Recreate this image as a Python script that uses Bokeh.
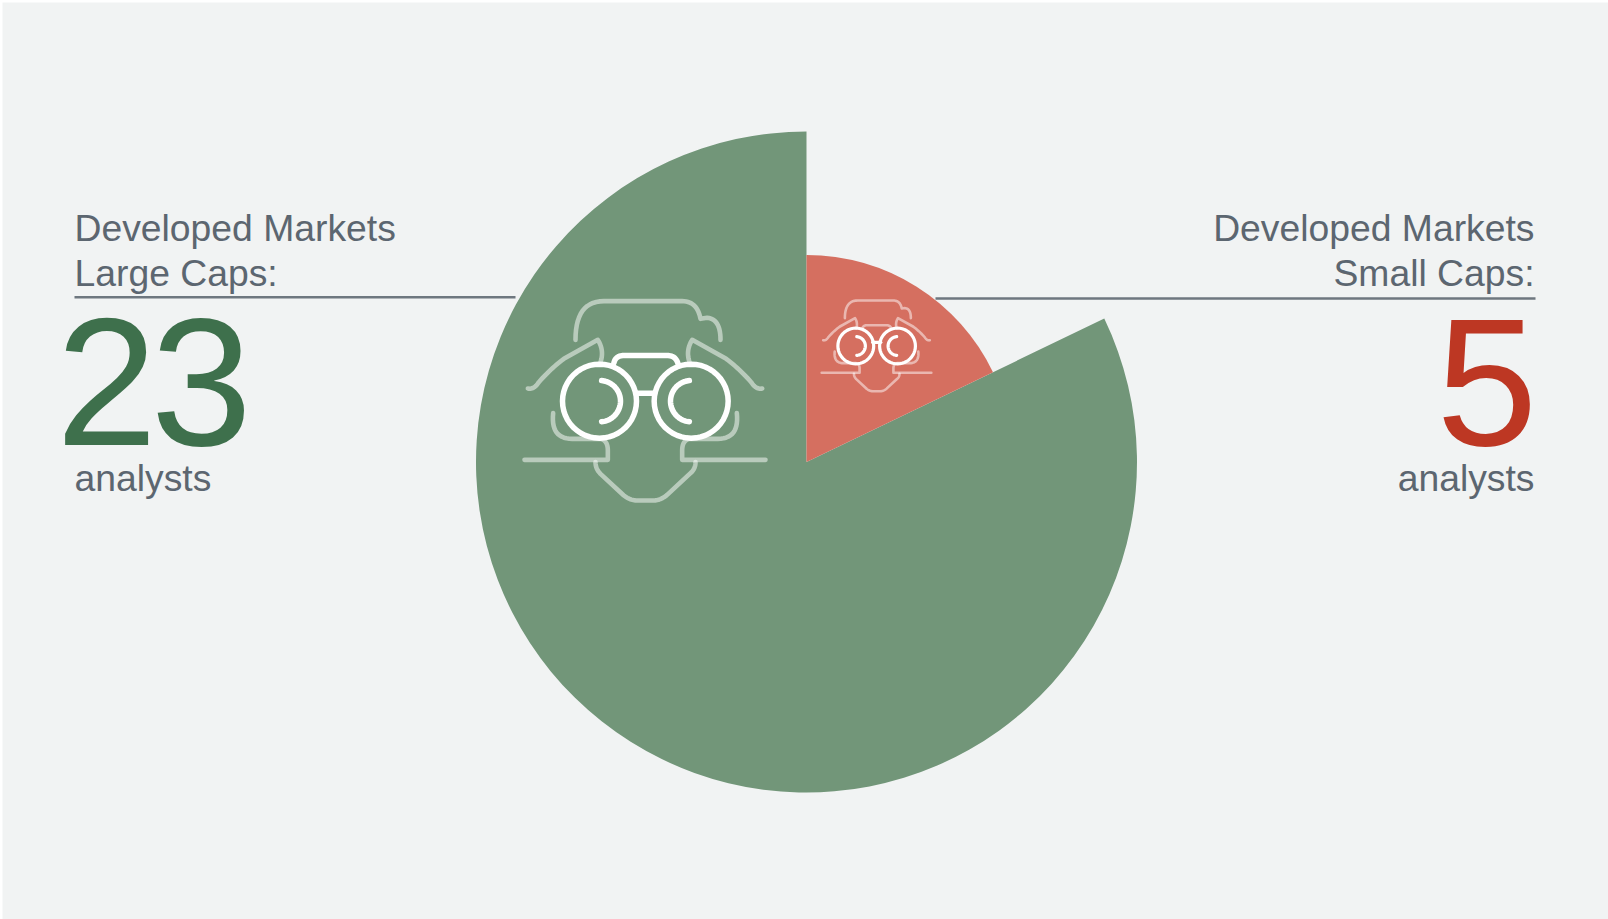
import math
from bokeh.plotting import figure
from bokeh.models import Range1d
from bokeh.core.properties import value
from bokeh.embed import file_html
from bokeh.resources import INLINE

# --- data ---
segments = ["Developed Markets Small Caps", "Developed Markets Large Caps"]
analysts = [5, 23]
wedge_colors = ["#d56f60", "#729679"]
number_colors = ["#bd3723", "#3e704c"]
label_color = "#5c6670"
rule_color = "#6e777f"
bg = "#f1f3f3"

W, H = 1608, 919
CX, CY = 806, 461.5
R_BIG, R_SMALL = 330.5, 207
LABEL_SIZE = 37.3
NUMBER_SIZE = 182
BASE_K = 0.355


def Y(y):
    return H - y


def make_fig(**kw):
    f = figure(width=W - 2, height=H - 2, x_range=Range1d(2, W), y_range=Range1d(0, H - 2),
               output_backend="svg", toolbar_location=None, min_border=0,
               outline_line_color=None, x_axis_type=None, y_axis_type=None, **kw)
    f.grid.visible = False
    return f


p = make_fig(background_fill_color=bg, border_fill_color=bg,
             styles={"position": "absolute", "left": "2px", "top": "2px"})
p2 = make_fig(background_fill_alpha=0, border_fill_alpha=0,
              styles={"position": "absolute", "left": "2px", "top": "2px", "letter-spacing": "-6.5px"})

# --- wedges ---
total = sum(analysts)
small_frac = analysts[0] / total
top = math.pi / 2
split = top - 2 * math.pi * small_frac
p.wedge(x=[CX], y=[Y(CY)], radius=R_BIG, start_angle=top, end_angle=split + 2 * math.pi,
        fill_color=wedge_colors[1], line_color=None)
p.wedge(x=[CX], y=[Y(CY)], radius=R_SMALL, start_angle=split, end_angle=top,
        fill_color=wedge_colors[0], line_color=None)


# --- icon, drawn in a local unit grid ---
def qcurve(a, c, b, n=14):
    return [((1 - t) ** 2 * a[0] + 2 * t * (1 - t) * c[0] + t ** 2 * b[0],
             (1 - t) ** 2 * a[1] + 2 * t * (1 - t) * c[1] + t ** 2 * b[1])
            for t in (i / n for i in range(n + 1))]


def arc(cx, cy, r, a0, a1, n=48):
    return [(cx + r * math.cos(math.radians(a0 + (a1 - a0) * i / n)),
             cy + r * math.sin(math.radians(a0 + (a1 - a0) * i / n))) for i in range(n + 1)]


MIRROR = 867


def mirror(path):
    return [(MIRROR - x, y) for x, y in path]


hair = ([(225, 178)] + qcurve((225, 178), (225, 62), (310, 62)) + qcurve((545, 62), (590, 62), (600, 115))
        + qcurve((620, 112), (660, 115), (660, 178)))
brow = (qcurve((82, 324), (100, 328), (115, 305)) + qcurve((115, 305), (150, 265), (190, 235))
        + [(292, 178)] + qcurve((292, 178), (312, 210), (300, 245)))
cheek = (qcurve((158, 398), (150, 475), (215, 475)) + [(300, 475)] + qcurve((300, 475), (322, 480), (322, 510))
         + [(322, 538), (72, 538)])
chin = (qcurve((285, 545), (285, 565), (300, 580)) + [(370, 645)] + qcurve((370, 645), (390, 660), (410, 660))
        + [(458, 660)] + qcurve((458, 660), (480, 660), (500, 643)) + [(570, 578)]
        + qcurve((570, 578), (585, 565), (585, 545)))
bridge_top = qcurve((340, 248), (345, 225), (370, 225)) + [(500, 225)] + qcurve((500, 225), (525, 225), (532, 248))
bridge = [(408, 338), (462, 338)]
faint_paths = [hair, brow, mirror(brow), cheek, mirror(cheek), chin]


def draw_icon(ox, oy, s, faint_w, solid_w, lens_radius, top_solid):
    lens_l = arc(297, 362, lens_radius, 0, 360)
    lens_r = arc(572, 362, lens_radius, 0, 360)
    inner_l = arc(298, 362, 62, -85, 85)
    inner_r = arc(572, 362, 62, 95, 265)
    solid = [lens_l, lens_r, inner_l, inner_r, bridge]
    faint = list(faint_paths)
    (solid if top_solid else faint).append(bridge_top)

    def conv(paths):
        return ([[ox + s * x for x, _ in q] for q in paths],
                [[Y(oy + s * y) for _, y in q] for q in paths])
    xs, ys = conv(faint)
    p.multi_line(xs, ys, line_color="white", line_alpha=0.5, line_width=faint_w,
                 line_cap="round", line_join="round")
    xs, ys = conv(solid)
    p.multi_line(xs, ys, line_color="white", line_width=solid_w,
                 line_cap="round", line_join="round")


draw_icon(500, 280, 1 / 3, 4.6, 5.5, 111, True)
draw_icon(876 - 0.1517 * 433.5, 300 - 0.1517 * 62, 0.1517, 2.6, 3.2, 118, False)


# --- text ---
def put(f, x, y, txt, size, color, align):
    f.text(x=[x], y=[Y(y - BASE_K * size)], text=[txt], text_font=value("Liberation Sans"),
           text_font_size=f"{size}px", text_color=color, text_align=align, text_baseline="alphabetic")


put(p, 74, 240.5, "Developed Markets", LABEL_SIZE, label_color, "left")
put(p, 74, 286, "Large Caps:", LABEL_SIZE, label_color, "left")
put(p2, 55.5, 446, str(analysts[1]), NUMBER_SIZE, number_colors[1], "left")
put(p, 74, 491, "analysts", LABEL_SIZE, label_color, "left")

put(p, 1534, 240.5, "Developed Markets", LABEL_SIZE, label_color, "right")
put(p, 1534, 286, "Small Caps:", LABEL_SIZE, label_color, "right")
put(p2, 1537, 446, str(analysts[0]), NUMBER_SIZE, number_colors[0], "right")
put(p, 1534, 491, "analysts", LABEL_SIZE, label_color, "right")

p.line(x=[74, 515], y=[Y(296.7), Y(296.7)], line_color=rule_color, line_width=2.4)
p.line(x=[935, 1535], y=[Y(298), Y(298)], line_color=rule_color, line_width=2.4)

open("out.html", "w").write(file_html([p, p2], INLINE))
